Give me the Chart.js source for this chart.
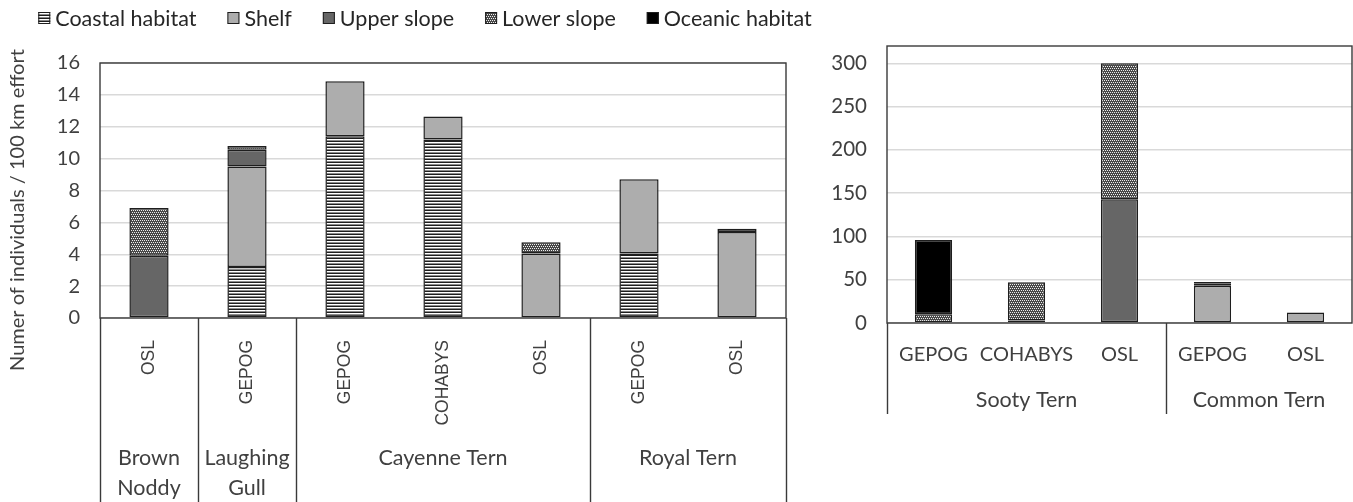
<!DOCTYPE html>
<html>
<head>
<meta charset="utf-8">
<script src="https://cdn.jsdelivr.net/npm/chart.js@4.4.0/dist/chart.umd.min.js"></script>
<style>
  body { margin: 0; background: #fff; }
  #wrap { position: relative; width: 1353px; height: 502px; }
  #leftBox { position: absolute; left: 0; top: 0; width: 820px; height: 502px; }
  #rightBox { position: absolute; left: 820px; top: 0; width: 533px; height: 502px; }
</style>
</head>
<body>
<div id="wrap">
  <div id="leftBox"><canvas id="leftChart"></canvas></div>
  <div id="rightBox"><canvas id="rightChart"></canvas></div>
</div>
<script>
// ---- data ----
const habitats = ['Coastal habitat', 'Shelf', 'Upper slope', 'Lower slope', 'Oceanic habitat'];

const leftLabels = ['OSL', 'GEPOG', 'GEPOG', 'COHABYS', 'OSL', 'GEPOG', 'OSL'];
const leftGroups = [['Brown', 'Noddy'], ['Laughing', 'Gull'], ['Cayenne Tern'], ['Royal Tern']];
const leftGroupSizes = [1, 1, 3, 2];
const leftCoastal = [0, 3.2, 11.4, 11.2, 0, 4.05, 0];
const leftShelf   = [0, 6.3, 3.45, 1.45, 4.05, 4.65, 5.4];
const leftUpper   = [3.9, 1.05, 0, 0, 0, 0, 0.2];
const leftLower   = [3.0, 0.25, 0, 0, 0.7, 0, 0];
const leftOceanic = [0, 0, 0, 0, 0, 0, 0];
const leftTicks = [0, 2, 4, 6, 8, 10, 12, 14, 16];

const rightLabels = ['GEPOG', 'COHABYS', 'OSL', 'GEPOG', 'OSL'];
const rightGroups = [['Sooty Tern'], ['Common Tern']];
const rightGroupSizes = [3, 2];
const rightCoastal = [0, 0, 0, 0, 0];
const rightShelf   = [0, 0, 0, 43, 12];
const rightUpper   = [0, 3, 143, 3, 0];
const rightLower   = [10, 44, 157, 0, 0];
const rightOceanic = [86, 0, 0, 1.5, 0];
const rightTicks = [0, 50, 100, 150, 200, 250, 300];
const rightYMax = 320;

// ---- fill patterns ----
function makePattern(kind) {
    const c = document.createElement('canvas');
    const g = c.getContext('2d');
    if (kind === 'stripes') {
        c.width = 4; c.height = 3;
        g.fillStyle = '#ffffff'; g.fillRect(0, 0, 4, 3);
        g.fillStyle = '#1e1e1e'; g.fillRect(0, 0, 4, 1);
        g.fillStyle = '#8a8a8a'; g.fillRect(0, 2, 4, 1);
    } else {
        c.width = 4; c.height = 4;
        g.fillStyle = '#484848'; g.fillRect(0, 0, 4, 4);
        g.fillStyle = '#eeeeee';
        g.fillRect(0, 0, 1, 1); g.fillRect(2, 0, 1, 1);
        g.fillRect(1, 2, 1, 1); g.fillRect(3, 2, 1, 1);
    }
    return g.createPattern(c, 'repeat');
}

const fills = [makePattern('stripes'), '#adadad', '#666666', makePattern('dots'), '#000000'];

function buildDatasets(series) {
    return series.map((values, i) => ({
        label: habitats[i],
        data: values,
        backgroundColor: fills[i],
        borderColor: '#1e1e1e',
        borderWidth: 1.5,
        borderSkipped: false,
        barPercentage: 0.4,
        categoryPercentage: 1.0
    }));
}

// frame, legend, category group labels and separators
const groupAxis = {
    id: 'groupAxis',
    afterDraw(chart, args, opts) {
        const { ctx, chartArea: a, scales: { x } } = chart;
        ctx.save();
        ctx.strokeStyle = '#3a3a3a';
        ctx.lineWidth = 1.4;
        ctx.strokeRect(a.left, a.top, a.right - a.left, a.bottom - a.top);

        const half = (x.getPixelForValue(1) - x.getPixelForValue(0)) / 2;
        let idx = 0;
        const edges = [x.getPixelForValue(0) - half];
        opts.sizes.forEach(s => { idx += s; edges.push(x.getPixelForValue(idx - 1) + half); });

        ctx.beginPath();
        edges.forEach((px, i) => {
            if (i === edges.length - 1 && !opts.closeRight) return;
            ctx.moveTo(Math.round(px) + 0.5, a.bottom);
            ctx.lineTo(Math.round(px) + 0.5, opts.lineBottom);
        });
        ctx.stroke();

        ctx.fillStyle = '#404040';
        ctx.font = '21.5px Lato';
        ctx.textAlign = 'center';
        ctx.textBaseline = 'middle';
        opts.groups.forEach((lines, i) => {
            const cx = (edges[i] + edges[i + 1]) / 2;
            lines.forEach((t, j) => ctx.fillText(t, cx, opts.groupY + j * opts.lineGap));
        });

        if (opts.legend) {
            const L = opts.legend;
            ctx.font = '21.5px Lato';
            ctx.textAlign = 'left';
            const widths = habitats.map(h => ctx.measureText(h).width);
            const total = widths.reduce((s, w) => s + w + 12 + L.boxGap, 0) + L.itemGap * (habitats.length - 1);
            let px = L.center - total / 2;
            habitats.forEach((h, i) => {
                ctx.fillStyle = fills[i];
                ctx.fillRect(px, L.y - 6, 12, 12);
                ctx.strokeStyle = '#1e1e1e';
                ctx.lineWidth = 1;
                ctx.strokeRect(px + 0.5, L.y - 5.5, 11, 11);
                ctx.fillStyle = '#262626';
                ctx.fillText(h, px + 12 + L.boxGap, L.y + 1);
                px += 12 + L.boxGap + widths[i] + L.itemGap;
            });
        }

        if (opts.title) {
            ctx.fillStyle = '#404040';
            ctx.textAlign = 'center';
            ctx.translate(opts.title.x, opts.title.y);
            ctx.rotate(-Math.PI / 2);
            ctx.font = '20px Lato';
            ctx.fillText(opts.title.text, 0, 0);
        }
        ctx.restore();
    }
};

Chart.defaults.animation = false;
Chart.defaults.color = '#404040';

new Chart(document.getElementById('leftChart'), {
    type: 'bar',
    data: {
        labels: leftLabels,
        datasets: buildDatasets([leftCoastal, leftShelf, leftUpper, leftLower, leftOceanic])
    },
    options: {
        responsive: true,
        maintainAspectRatio: false,
        layout: { padding: { top: 63, right: 34, left: 0, bottom: 0 } },
        plugins: {
            tooltip: { enabled: false },
            legend: { display: false },
            groupAxis: {
                sizes: leftGroupSizes,
                groups: leftGroups,
                groupY: 458,
                lineGap: 30,
                lineBottom: 502,
                closeRight: true,
                legend: { center: 425, y: 18, boxGap: 5, itemGap: 31 },
                title: { text: 'Numer of individuals / 100 km effort', x: 18, y: 210 }
            }
        },
        scales: {
            x: {
                stacked: true,
                grid: { display: false, drawTicks: false },
                border: { display: false },
                ticks: {
                    autoSkip: false,
                    minRotation: 90,
                    maxRotation: 90,
                    padding: 22,
                    color: '#404040',
                    font: { family: 'Liberation Sans', size: 17.5 }
                },
                afterFit: s => { s.height = 184; }
            },
            y: {
                stacked: true,
                min: leftTicks[0],
                max: leftTicks[leftTicks.length - 1],
                grid: { color: '#d9d9d9', lineWidth: 1.5, drawTicks: false },
                border: { display: false },
                ticks: {
                    padding: 20,
                    color: '#404040',
                    font: { family: 'Lato', size: 20 }
                },
                afterBuildTicks: s => { s.ticks = leftTicks.map(v => ({ value: v })); },
                afterFit: s => { s.width = 100; }
            }
        }
    },
    plugins: [groupAxis]
});

new Chart(document.getElementById('rightChart'), {
    type: 'bar',
    data: {
        labels: rightLabels,
        datasets: buildDatasets([rightCoastal, rightShelf, rightUpper, rightLower, rightOceanic])
    },
    options: {
        responsive: true,
        maintainAspectRatio: false,
        layout: { padding: { top: 46, right: 1, left: 0, bottom: 0 } },
        plugins: {
            tooltip: { enabled: false },
            legend: { display: false },
            groupAxis: {
                sizes: rightGroupSizes,
                groups: rightGroups,
                groupY: 400,
                lineGap: 0,
                lineBottom: 414,
                closeRight: false
            }
        },
        scales: {
            x: {
                stacked: true,
                grid: { display: false, drawTicks: false },
                border: { display: false },
                ticks: {
                    autoSkip: false,
                    maxRotation: 0,
                    padding: 20,
                    color: '#404040',
                    font: { family: 'Lato', size: 20 }
                },
                afterFit: s => { s.height = 179; }
            },
            y: {
                stacked: true,
                min: 0,
                max: rightYMax,
                grid: { color: '#d9d9d9', lineWidth: 1.5, drawTicks: false },
                border: { display: false },
                ticks: {
                    padding: 20,
                    color: '#404040',
                    font: { family: 'Lato', size: 20.5 }
                },
                afterBuildTicks: s => { s.ticks = rightTicks.map(v => ({ value: v })); },
                afterFit: s => { s.width = 67; }
            }
        }
    },
    plugins: [groupAxis]
});
</script>
</body>
</html>
